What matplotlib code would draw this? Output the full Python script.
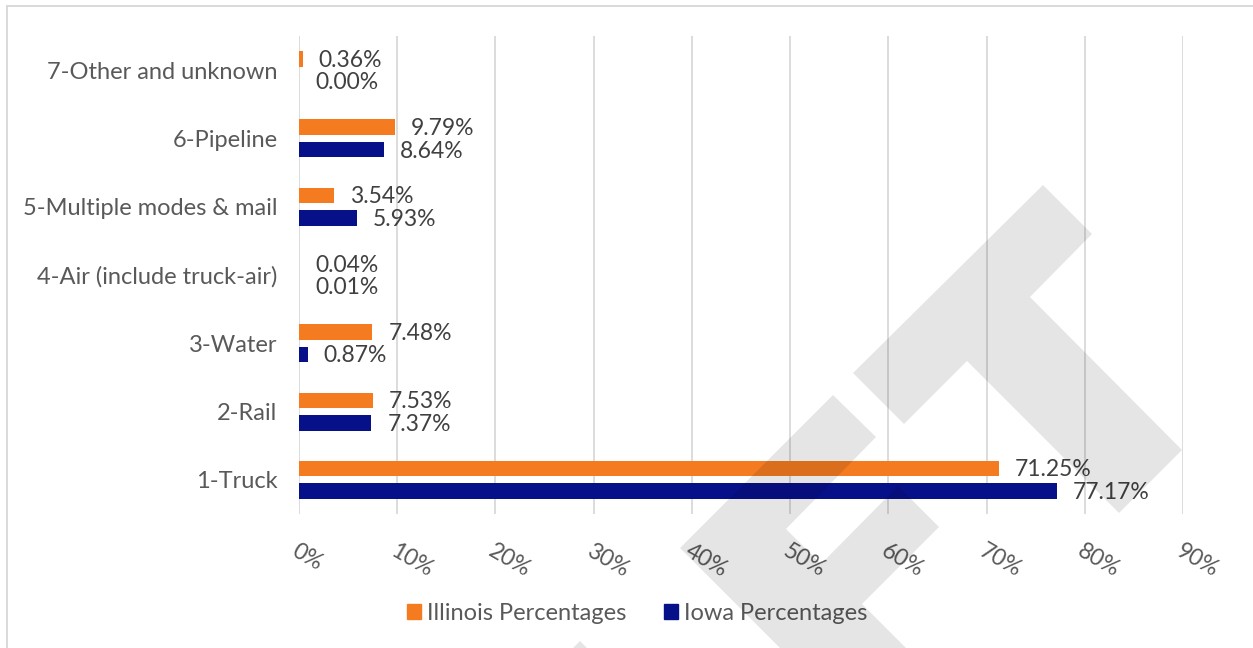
import matplotlib
matplotlib.use("Agg")
import matplotlib.pyplot as plt
from matplotlib.patches import Polygon, Rectangle
import numpy as np

plt.rcParams['font.family'] = ['Lato', 'DejaVu Sans']

categories = ["1-Truck", "2-Rail", "3-Water", "4-Air (include truck-air)",
              "5-Multiple modes & mail", "6-Pipeline", "7-Other and unknown"]
illinois = [71.25, 7.53, 7.48, 0.04, 3.54, 9.79, 0.36]
iowa = [77.17, 7.37, 0.87, 0.01, 5.93, 8.64, 0.00]
xticks = [0, 10, 20, 30, 40, 50, 60, 70, 80, 90]
xtick_labels = [f"{t}%" for t in xticks]
series_names = ["Illinois Percentages", "Iowa Percentages"]

ORANGE = "#F47B20"
NAVY = "#061088"
GRID = "#D9D9D9"
LABEL = "#595959"
VALUE = "#404040"
FS = 16.5

W, H = 1253, 648
fig = plt.figure(figsize=(W / 100, H / 100), dpi=100)
ax = fig.add_axes([299 / W, 1 - 514 / H, (1183 - 299) / W, (514 - 36) / H])

y = np.arange(len(categories))
bh = 0.226
off = 0.165
ax.barh(y + off, illinois, height=bh, color=ORANGE, zorder=3)
ax.barh(y - off, iowa, height=bh, color=NAVY, zorder=3)

for yi, v in zip(y, illinois):
    ax.annotate(f"{v:.2f}%", (v, yi + off), xytext=(11.5, -1), textcoords="offset points",
                ha="left", va="center", fontsize=FS, color=VALUE, zorder=4)
for yi, v in zip(y, iowa):
    ax.annotate(f"{v:.2f}%", (v, yi - off), xytext=(11.5, -1), textcoords="offset points",
                ha="left", va="center", fontsize=FS, color=VALUE, zorder=4)

ax.set_xlim(0, 90)
ax.set_ylim(-0.5, len(categories) - 0.5)
ax.set_xticks(xticks)
ax.set_xticklabels(xtick_labels, rotation=-30, ha="left", va="top",
                   rotation_mode="anchor", fontsize=FS, color=LABEL)
ax.set_yticks(y)
ax.set_yticklabels(categories, fontsize=FS + 0.5, color=LABEL)
ax.tick_params(axis="x", length=0, pad=19)
ax.tick_params(axis="y", length=0, pad=15.5)
for s in ax.spines.values():
    s.set_visible(False)
ax.grid(axis="x", color=GRID, linewidth=1.3, zorder=0)
ax.set_axisbelow(True)

handles = [Rectangle((0, 0), 1, 1, color=ORANGE), Rectangle((0, 0), 1, 1, color=NAVY)]
fig.legend(handles, series_names, loc="center", bbox_to_anchor=(637 / W, 1 - 613 / H),
           ncol=2, frameon=False, fontsize=FS + 0.5, handlelength=0.6, handleheight=0.6,
           handletextpad=0.25, columnspacing=1.6, labelcolor=LABEL)

# chart border (top and left edges visible)
fig.add_artist(Rectangle((7 / W, -0.1), 1.2, 1 - 6 / H + 0.1, transform=fig.transFigure,
                         fill=False, edgecolor=GRID, linewidth=1.4, zorder=0))


def px(points):
    return [(x / W, 1 - yy / H) for x, yy in points]


# watermark logo
logo_t = [(1043, 185), (1092, 234), (1030, 297), (1182, 450), (1119, 513),
          (967, 361), (904, 424), (853, 373)]
logo_f = [(833, 395), (876, 437), (786, 529), (821, 564), (898, 486), (939, 527),
          (862, 604), (906, 648), (780, 648), (680, 548)]
logo_tip = [(580, 641), (587, 648), (573, 648)]
for shape in (logo_t, logo_f, logo_tip):
    fig.add_artist(Polygon(px(shape), closed=True, transform=fig.transFigure,
                           facecolor="black", alpha=0.1, edgecolor="none", zorder=10))

fig.savefig("out.png", dpi=100, facecolor="white")
